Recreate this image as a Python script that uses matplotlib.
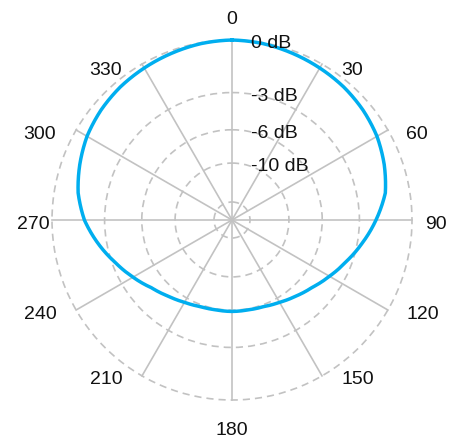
import numpy as np
import matplotlib
matplotlib.use("Agg")
import matplotlib.pyplot as plt
from matplotlib.transforms import offset_copy

plt.rcParams['font.family'] = ['Liberation Sans', 'DejaVu Sans']

# Angles (degrees, clockwise from top) and relative amplitude of the pattern
angles_deg = [0, 10, 20, 30, 40, 50, 60, 70, 80, 90, 100, 110,
              120, 130, 140, 150, 160, 170, 180, 190, 200, 210, 220, 230,
              240, 250, 260, 270, 280, 290, 300, 310, 320, 330, 340, 350, 360]
amplitude = [1.00, 0.995, 0.985, 0.975, 0.965, 0.95, 0.93, 0.90, 0.865, 0.80, 0.735, 0.675,
             0.625, 0.582, 0.552, 0.528, 0.512, 0.507, 0.508, 0.507, 0.512, 0.528, 0.552, 0.585,
             0.635, 0.69, 0.755, 0.82, 0.868, 0.90, 0.93, 0.95, 0.965, 0.975, 0.985, 0.995, 1.00]

# Radial grid levels (dB) and their labels
ring_db = [-20, -10, -6, -3, 0]
ring_labels = ['', '-10 dB', '-6 dB', '-3 dB', '0 dB']

# Angular tick labels
theta_ticks = [0, 30, 60, 90, 120, 150, 180, 210, 240, 270, 300, 330]
theta_labels = ['0', '30', '60', '90', '120', '150', '180', '210', '240', '270', '300', '330']

fig = plt.figure(figsize=(4.6, 4.39), dpi=100)
ax = fig.add_axes([52 / 460, 38 / 439, 360 / 460, 360 / 439], projection='polar')
ax.set_theta_zero_location('N')
ax.set_theta_direction(-1)
ax.set_ylim(0, 1.0)
ax.spines['polar'].set_visible(False)
ax.set_facecolor('none')

grid_color = '#c2c2c2'
ring_r = [10 ** (d / 20) for d in ring_db]
ax.set_yticks(ring_r)
ax.set_yticklabels([])
ax.set_xticks(np.deg2rad(theta_ticks))
ax.set_xticklabels([])
ax.yaxis.grid(True, color=grid_color, linestyle=(0, (4.3, 3.0)), linewidth=1.2)
ax.xaxis.grid(True, color=grid_color, linestyle='-', linewidth=1.2)
ax.tick_params(length=0)
for gl in ax.yaxis.get_gridlines() + ax.xaxis.get_gridlines():
    gl.set_clip_on(False)

line, = ax.plot(np.deg2rad(angles_deg), amplitude, color='#00aeef', linewidth=2.5,
                clip_on=False, zorder=5, solid_joinstyle='round')
line.get_path()._interpolation_steps = 20

# Angular labels: placed around the circle (pixel offsets from centre)
label_offsets = [(0, 204), (120, 153), (185, 89), (204, -1), (191, -91), (126, -156),
                 (0, -207), (-126, -156), (-192, -91), (-199, -1), (-192, 89), (-126, 153)]
for lab, (dx, dy) in zip(theta_labels, label_offsets):
    tr = offset_copy(ax.transData, fig=fig, x=dx, y=dy - 2.5, units='dots')
    ax.text(0, 0, lab, transform=tr, ha='center', va='center', fontsize=14,
            color='#111111', clip_on=False)

# Radial labels along the 0 degree line
tr = offset_copy(ax.transData, fig=fig, x=19, y=-2.5, units='dots')
for r, lab in zip(ring_r, ring_labels):
    if lab:
        ax.text(0, r, lab, transform=tr, ha='left', va='center', fontsize=14,
                color='#111111', clip_on=False, zorder=6)

fig.savefig('out.png', dpi=100)
